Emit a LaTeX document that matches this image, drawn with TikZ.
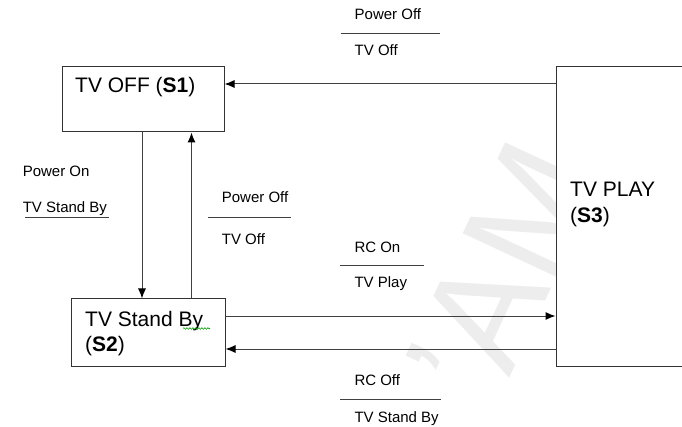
\documentclass[tikz,border=0pt]{standalone}
\usepackage{fontspec}
\setmainfont{Liberation Sans}
\usetikzlibrary{arrows.meta,decorations.pathmorphing}

\tikzset{
  state/.style={draw=black!80, line width=1pt, fill=white, inner sep=0pt},
  trans/.style={draw=black!75, line width=1pt, -{Latex[length=10pt,width=8pt,color=black]}},
  stxt/.style={anchor=base west, inner sep=0pt, font=\fontsize{21}{24}\selectfont},
  lbl/.style={anchor=base west, inner sep=0pt, font=\fontsize{15}{18}\selectfont},
  bar/.style={draw=black!75, line width=1pt}
}

\begin{document}
\begin{tikzpicture}[x=1pt,y=-1pt]
			\useasboundingbox (0,0) rectangle (682,427);
			\clip (0,0) rectangle (682,427);
			% faint watermark
			\node[text=black!7, rotate=65, font=\fontsize{150}{150}\selectfont] (mark) at (503,270) {'AM};
			% states
			\node[state, minimum width=162pt, minimum height=65pt] (s1) at (143,99.5) {};
			\node[state, minimum width=154pt, minimum height=67pt] (s2) at (148,332.5) {};
			\node[state, minimum width=144pt, minimum height=299pt] (s3) at (628,216.5) {};
			\node[stxt] (s1txt) at (75,92.7) {TV OFF (\textbf{S1})};
			\node[stxt] (s2txt) at (85,326.7) {TV Stand By};
			\node[stxt] (s2sub) at (85,351) {(\textbf{S2})};
			\node[stxt] (s3txt) at (570,196.7) {TV PLAY};
			\node[stxt] (s3sub) at (570,222.7) {(\textbf{S3})};
			\draw[green!60!black, line width=0.6pt, decorate, decoration={snake, amplitude=0.8pt, segment length=3pt}] (183,328.5) -- (210,328.5);
			% transitions
			\draw[trans] (s3.west |- 0,84) -- (s1.east |- 0,84);
			\draw[trans] (s1.south -| 142,0) -- (s2.north -| 142,0);
			\draw[trans] (s2.north -| 191.5,0) -- (s1.south -| 191.5,0);
			\draw[trans] (s2.east |- 0,316) -- (s3.west |- 0,316);
			\draw[trans] (s3.west |- 0,349) -- (s2.east |- 0,349);
			% conditions / actions
			\node[lbl] (offin) at (354.5,19.3) {Power Off};
			\node[lbl] (offout) at (354.5,55.6) {TV Off};
			\draw[bar] (340.6,33.7) -- (440,33.7);
			\node[lbl] (onin) at (22.6,177) {Power On};
			\node[lbl] (onout) at (22.6,213) {TV Stand By};
			\draw[bar] (25,217.7) -- (109,217.7);
			\node[lbl] (backin) at (221.7,202.7) {Power Off};
			\node[lbl] (backout) at (221.7,244.3) {TV Off};
			\draw[bar] (207.7,217.7) -- (291,217.7);
			\node[lbl] (rcin) at (354.3,252.3) {RC On};
			\node[lbl] (rcout) at (354.3,287.3) {TV Play};
			\draw[bar] (340,265.7) -- (424.3,265.7);
			\node[lbl] (rcoffin) at (354.3,385.3) {RC Off};
			\node[lbl] (rcoffout) at (354.3,422) {TV Stand By};
			\draw[bar] (340,399) -- (440.7,399);
		\end{tikzpicture}
\end{document}
